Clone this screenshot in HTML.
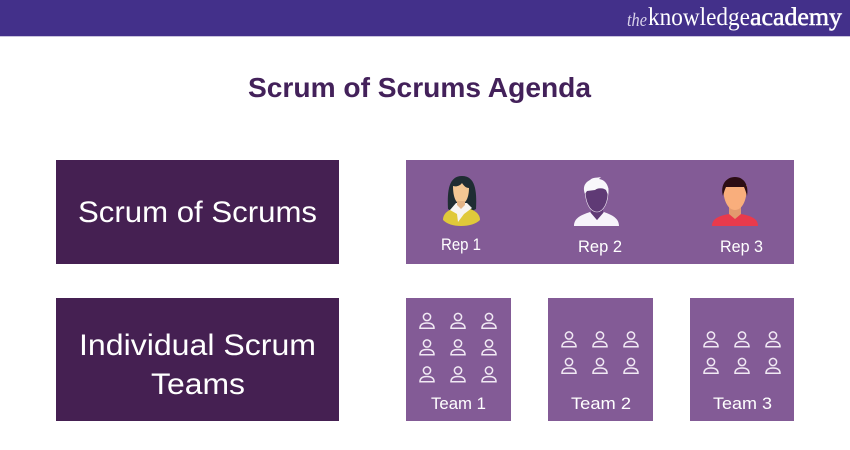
<!DOCTYPE html>
<html>
<head>
<meta charset="utf-8">
<style>
html,body{margin:0;padding:0;background:#fff;width:850px;height:450px;overflow:hidden}
svg{display:block}
.s{font-family:"Liberation Sans",sans-serif}
</style>
</head>
<body>
<svg width="850" height="450" viewBox="0 0 850 450" xmlns="http://www.w3.org/2000/svg">
<defs>
<g id="p" fill="none" stroke="#f1e9f4" stroke-width="1.5">
<circle cx="0" cy="-4" r="3.6"/>
<path d="M-7 7.2 C-7 3.5 -4 2 0 2 C4 2 7 3.5 7 7.2 Z"/>
</g>
</defs>
<rect width="850" height="450" fill="#fff"/>
<rect width="850" height="36" fill="#43308a"/>
<rect y="36" width="850" height="1" fill="#c9c3dd"/>
<text x="627" y="26" font-family="Liberation Serif,serif" font-style="italic" font-size="19" fill="#d9d3ea" textLength="20" lengthAdjust="spacingAndGlyphs">the</text>
<text x="648" y="25" font-family="Liberation Serif,serif" font-size="25" fill="#fff" textLength="102" lengthAdjust="spacingAndGlyphs">knowledge</text>
<text x="750" y="25" font-family="Liberation Serif,serif" font-size="25" fill="#fff" stroke="#fff" stroke-width="0.5" textLength="92" lengthAdjust="spacingAndGlyphs">academy</text>

<text class="s" x="248" y="97" font-size="28" font-weight="bold" fill="#43215a" textLength="343" lengthAdjust="spacingAndGlyphs">Scrum of Scrums Agenda</text>

<rect x="56" y="160" width="283" height="104" fill="#452052"/>
<rect x="56" y="298" width="283" height="123" fill="#452052"/>
<rect x="406" y="160" width="388" height="104" fill="#835b96"/>
<rect x="406" y="298" width="105" height="123" fill="#835b96"/>
<rect x="548" y="298" width="105" height="123" fill="#835b96"/>
<rect x="690" y="298" width="104" height="123" fill="#835b96"/>

<g class="s" fill="#fff" font-size="30">
<text x="78" y="222" textLength="239" lengthAdjust="spacingAndGlyphs">Scrum of Scrums</text>
<text x="79" y="355" textLength="237" lengthAdjust="spacingAndGlyphs">Individual Scrum</text>
<text x="151" y="394" textLength="94" lengthAdjust="spacingAndGlyphs">Teams</text>
</g>
<g class="s" fill="#fff" font-size="17">
<text x="441" y="250" textLength="40" lengthAdjust="spacingAndGlyphs">Rep 1</text>
<text x="578" y="252" textLength="44" lengthAdjust="spacingAndGlyphs">Rep 2</text>
<text x="720" y="252" textLength="43" lengthAdjust="spacingAndGlyphs">Rep 3</text>
<text x="431" y="409" textLength="55" lengthAdjust="spacingAndGlyphs">Team 1</text>
<text x="571" y="409" textLength="60" lengthAdjust="spacingAndGlyphs">Team 2</text>
<text x="713" y="409" textLength="59" lengthAdjust="spacingAndGlyphs">Team 3</text>
</g>

<!-- Rep 1 -->
<path d="M448 209 C447 190 449 176 462 176 C475 176 477 190 476 209 L470 212 L453 212 Z" fill="#1f2d33"/>
<path d="M443 220 C443 212 451 208 461 207 C471 208 480 212 480 220 C476 224 469 226 461 226 C453 226 447 224 443 220 Z" fill="#e0c93a"/>
<path d="M456 203 L467 203 L472 208 L464 214 L458 222 L457 214 L450 210 Z" fill="#f7f4f2"/>
<path d="M453 186 C456 187 460 186 462 183 C464 186 466 188 469 188 C469 197 466 204 461 204 C456 204 453 197 453 186 Z" fill="#f3c794"/>
<path d="M457 201 L465 201 L465 205 L461 209 L457 205 Z" fill="#e3b487"/>

<!-- Rep 2 -->
<path d="M574 226 C574 218 581 215 590 212 L597 220 L604 212 C612 215 619 218 619 226 Z" fill="#f6f3fa"/>
<path d="M591 206 L603 206 L603 213 L597 220 L591 213 Z" fill="#5f3a75"/>
<path d="M585 188 L608 188 C609 203 603 212 597 212 C590 212 585 203 585 188 Z" fill="#5f3a75" stroke="#f0e8f4" stroke-width="0.6"/>
<path d="M585 194 C582 186 586 182 590 180 C593 177 597 178 601 177 L599 179 C606 180 610 187 608 195 L606 190 C603 188 599 187 595 190 L587 191 Z" fill="#f8f7fb"/>

<!-- Rep 3 -->
<path d="M712 226 C712 219 718 216 729 214 L741 214 C752 216 758 219 758 226 Z" fill="#e93a4c"/>
<path d="M729 206 L741 206 L741 214 L735 219 L729 214 Z" fill="#e39a6e"/>
<path d="M723 185 L747 185 C747 203 741 210 735 210 C729 210 723 203 723 185 Z" fill="#f9ae7c"/>
<path d="M723 196 C720 185 726 177 735 177 C744 177 749 185 747 196 C746 192 745 189 744 187 L726 187 C725 189 724 192 723 196 Z" fill="#2c0d14"/>

<!-- Team 1 -->
<use href="#p" x="427" y="321"/><use href="#p" x="458" y="321"/><use href="#p" x="489" y="321"/>
<use href="#p" x="427" y="347.5"/><use href="#p" x="458" y="347.5"/><use href="#p" x="489" y="347.5"/>
<use href="#p" x="427" y="374.5"/><use href="#p" x="458" y="374.5"/><use href="#p" x="489" y="374.5"/>
<!-- Team 2 -->
<use href="#p" x="569" y="339.5"/><use href="#p" x="600" y="339.5"/><use href="#p" x="631" y="339.5"/>
<use href="#p" x="569" y="366"/><use href="#p" x="600" y="366"/><use href="#p" x="631" y="366"/>
<!-- Team 3 -->
<use href="#p" x="711" y="339.5"/><use href="#p" x="742" y="339.5"/><use href="#p" x="773" y="339.5"/>
<use href="#p" x="711" y="366"/><use href="#p" x="742" y="366"/><use href="#p" x="773" y="366"/>
</svg>
</body>
</html>
